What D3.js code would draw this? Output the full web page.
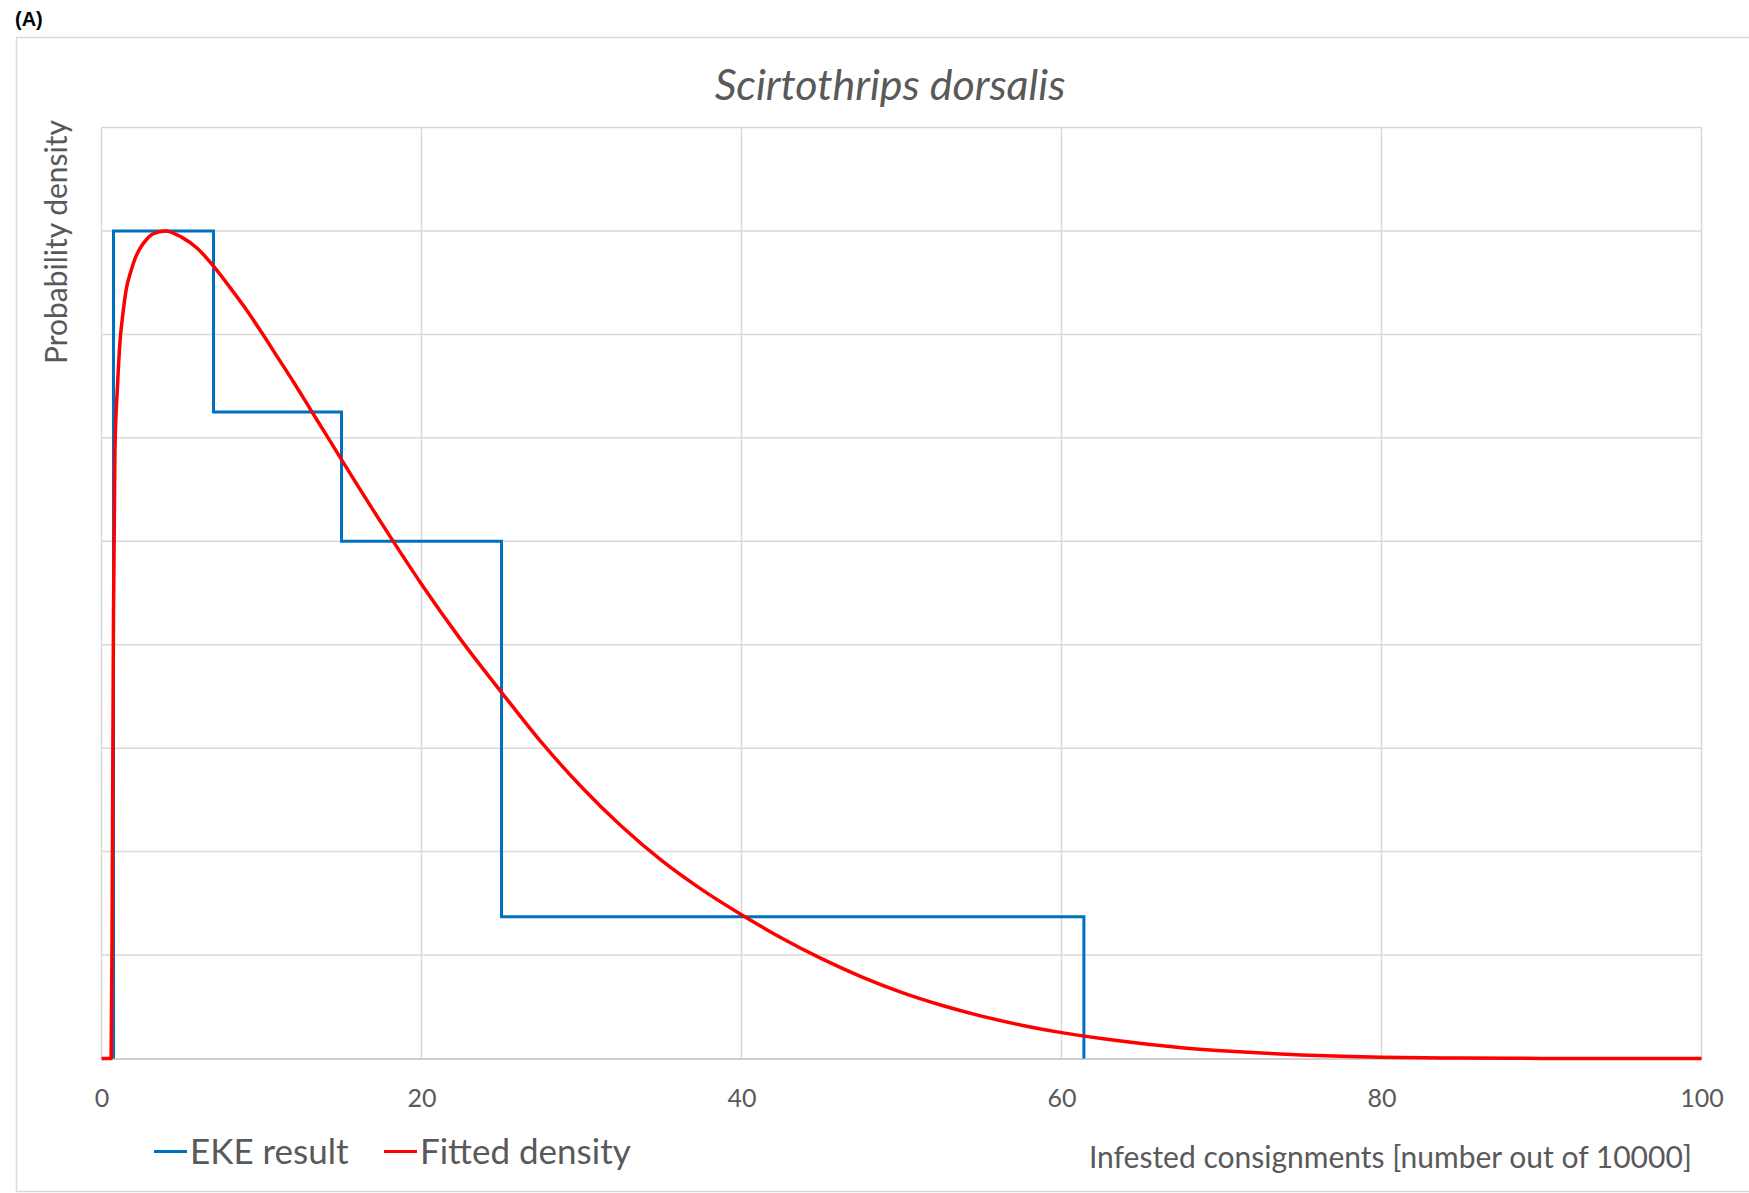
<!DOCTYPE html>
<html>
<head>
<meta charset="utf-8">
<script src="https://cdn.jsdelivr.net/npm/d3@7"></script>
<style>
  html, body { margin: 0; padding: 0; background: #fff; }
  svg { display: block; }
  text { font-family: Lato, "Open Sans", sans-serif; }
</style>
</head>
<body>
<svg id="chart" width="1749" height="1193"></svg>
<script>
// ---- data ----
const chartTitle = "Scirtothrips dorsalis";
const panelLabel = "(A)";
const xTitle = "Infested consignments [number out of 10000]";
const yTitle = "Probability density";
const seriesNames = ["EKE result", "Fitted density"];

const xTicks = [0, 20, 40, 60, 80, 100];
const yGrid = [0, 1, 2, 3, 4, 5, 6, 7, 8, 9];

// EKE result: bin edges (quartile points) and step heights
const ekeEdges = [0.75, 7, 15, 25, 61.4];
const ekeHeights = [8, 6.25, 5, 1.37];

// Fitted density: points
const fitX = [0, 0.6, 0.66, 0.7, 0.75, 0.84, 1.0, 1.16, 1.3, 1.575, 1.8, 2.09, 2.4, 2.83, 3.2, 4, 5, 6, 7, 8, 9, 10, 11, 12, 13, 14, 15, 17.5, 20, 22.5, 25, 27.5, 30, 32.5, 35, 37.5, 40, 42.5, 45, 47.5, 50, 52.5, 55, 57.5, 60, 62.5, 65, 67.5, 70, 72.5, 75, 77.5, 80, 85, 90, 95, 100];
const fitY = [0, 0, 1.2, 2.6, 4.3, 5.88, 6.5, 6.94, 7.15, 7.46, 7.59, 7.73, 7.83, 7.92, 7.97, 8.0, 7.94, 7.83, 7.66, 7.46, 7.25, 7.02, 6.78, 6.54, 6.29, 6.04, 5.79, 5.175, 4.585, 4.04, 3.54, 3.055, 2.625, 2.245, 1.915, 1.635, 1.39, 1.165, 0.965, 0.79, 0.64, 0.515, 0.41, 0.322, 0.25, 0.193, 0.145, 0.105, 0.075, 0.052, 0.035, 0.022, 0.013, 0.004, 0.001, 0, 0];

// ---- layout ----
const svg = d3.select("#chart");
const plot = { left: 101.5, right: 1701.5, top: 127.5, bottom: 1058.5 };
const textColor = "#595959";
const gridColor = "#d9d9d9";
const blue = "#0070c0";
const red = "#ff0000";

const x = d3.scaleLinear().domain([0, 100]).range([plot.left, plot.right]);
const y = d3.scaleLinear().domain([0, 9]).range([plot.bottom, plot.top]);

// panel label
svg.append("text").attr("x", 15).attr("y", 26)
  .style("font-family", "'Liberation Sans', Arial, sans-serif")
  .style("font-weight", "bold").style("font-size", "20px").attr("fill", "#000")
  .text(panelLabel);

// outer chart border
svg.append("rect").attr("x", 16.5).attr("y", 37.5)
  .attr("width", 1760).attr("height", 1154)
  .attr("fill", "none").attr("stroke", gridColor).attr("stroke-width", 1.5);

// horizontal gridlines
svg.append("g").selectAll("line").data(yGrid.slice(1)).join("line")
  .attr("x1", plot.left).attr("x2", plot.right)
  .attr("y1", d => y(d)).attr("y2", d => y(d))
  .attr("stroke", gridColor).attr("stroke-width", 1.5);

// vertical gridlines
svg.append("g").selectAll("line").data(xTicks).join("line")
  .attr("x1", d => x(d)).attr("x2", d => x(d))
  .attr("y1", plot.top).attr("y2", plot.bottom)
  .attr("stroke", gridColor).attr("stroke-width", 1.5);

// x axis with labels
const xAxis = d3.axisBottom(x).tickValues(xTicks).tickSize(0).tickPadding(0).tickFormat(d3.format("d"));
const gx = svg.append("g").attr("transform", `translate(0,${plot.bottom})`).call(xAxis);
gx.select(".domain").attr("stroke", "#bfbfbf").attr("stroke-width", 1.5);
gx.selectAll(".tick text")
  .attr("dy", null).attr("y", 48)
  .attr("fill", textColor)
  .style("font-family", "Lato, sans-serif").style("font-size", "25px");

// EKE step line
const ekePts = [[ekeEdges[0], 0]];
ekeHeights.forEach((h, i) => { ekePts.push([ekeEdges[i], h]); ekePts.push([ekeEdges[i + 1], h]); });
ekePts.push([ekeEdges[ekeEdges.length - 1], 0]);
svg.append("path")
  .attr("d", d3.line().x(d => x(d[0])).y(d => y(d[1]))(ekePts))
  .attr("fill", "none").attr("stroke", blue).attr("stroke-width", 3)
  .attr("stroke-linejoin", "miter");

// fitted density curve
const fitPts = fitX.map((v, i) => [v, fitY[i]]);
svg.append("path")
  .attr("d", d3.line().x(d => x(d[0])).y(d => y(d[1])).curve(d3.curveMonotoneX)(fitPts))
  .attr("fill", "none").attr("stroke", red).attr("stroke-width", 3.5)
  .attr("stroke-linejoin", "round");

// title
svg.append("text").attr("x", 890).attr("y", 100).attr("text-anchor", "middle")
  .attr("fill", textColor).style("font-style", "italic").style("font-size", "43px")
  .text(chartTitle);

// y title
svg.append("text").attr("transform", "translate(67,242) rotate(-90)")
  .attr("text-anchor", "middle").attr("fill", textColor).style("font-size", "30px")
  .text(yTitle);

// x title
svg.append("text").attr("x", 1692).attr("y", 1168).attr("text-anchor", "end")
  .attr("fill", textColor).style("font-size", "30px")
  .text(xTitle);

// legend
const legendItems = [
  { name: seriesNames[0], color: blue, x: 154 },
  { name: seriesNames[1], color: red, x: 384 }
];
const lg = svg.append("g");
legendItems.forEach(it => {
  lg.append("line").attr("x1", it.x).attr("x2", it.x + 33)
    .attr("y1", 1151.5).attr("y2", 1151.5)
    .attr("stroke", it.color).attr("stroke-width", 3);
  lg.append("text").attr("x", it.x + 36).attr("y", 1164)
    .attr("fill", textColor).style("font-size", "35px").text(it.name);
});
</script>
</body>
</html>
